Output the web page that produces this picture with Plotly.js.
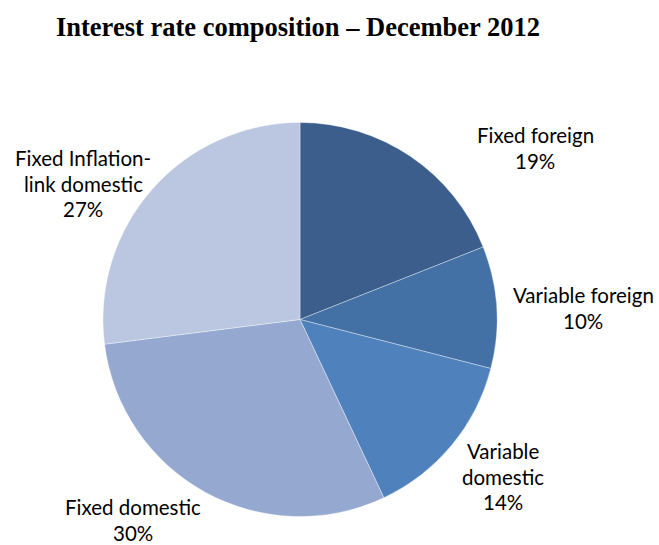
<!DOCTYPE html>
<html>
<head>
<meta charset="utf-8">
<script src="https://cdn.plot.ly/plotly-3.0.1.min.js"></script>
<style>html,body{margin:0;padding:0;background:#fff;}#chart{width:659px;height:545px;}</style>
</head>
<body>
<div id="chart"></div>
<script>
var categories = ["Fixed foreign", "Variable foreign", "Variable domestic", "Fixed domestic", "Fixed Inflation-link domestic"];
var values = [19, 10, 14, 30, 27];
var labelLines = [["Fixed foreign"], ["Variable foreign"], ["Variable", "domestic"], ["Fixed domestic"], ["Fixed Inflation-", "link domestic"]];
var colors = ["#3B5E8C", "#4371A6", "#4F81BD", "#95A8D0", "#BBC7E0"];

var W = 659, H = 545;
var cx = 300, cy = 319.5, r = 197;
// label anchor (center of first line), in pixels
var labelPos = [[535, 135], [583, 295], [503, 451], [133, 507], [83, 158]];
var lineGap = 25.5;

var annotations = [];
categories.forEach(function(c, i) {
  var lines = labelLines[i].concat([values[i] + "%"]);
  lines.forEach(function(t, j) {
    annotations.push({
      xref: "paper", yref: "paper",
      x: labelPos[i][0] / W, y: 1 - (labelPos[i][1] + j * lineGap) / H,
      xanchor: "center", yanchor: "middle",
      text: t, showarrow: false,
      font: {family: "Lato, 'Open Sans', sans-serif", size: 20.5, color: "#000"}
    });
  });
});

var data = [{
  type: "pie",
  labels: categories,
  values: values,
  sort: false,
  direction: "clockwise",
  rotation: 0,
  textinfo: "none",
  hoverinfo: "label+percent",
  marker: {colors: colors, line: {color: "rgba(255,255,255,0.6)", width: 0.6}},
  domain: {x: [(cx - r) / W, (cx + r) / W], y: [1 - (cy + r) / H, 1 - (cy - r) / H]},
  showlegend: false
}];

var layout = {
  width: W, height: H,
  margin: {l: 0, r: 0, t: 0, b: 0},
  paper_bgcolor: "#fff",
  title: {
    text: "<b>Interest rate composition \u2013 December 2012</b>",
    font: {family: "'Liberation Serif', 'Times New Roman', serif", size: 26.5, color: "#000"},
    x: 298 / W, xanchor: "center", y: 1 - 27 / H, yanchor: "middle", xref: "paper", yref: "paper"
  },
  annotations: annotations,
  showlegend: false
};

Plotly.newPlot("chart", data, layout, {displayModeBar: false, staticPlot: true});
</script>
</body>
</html>
